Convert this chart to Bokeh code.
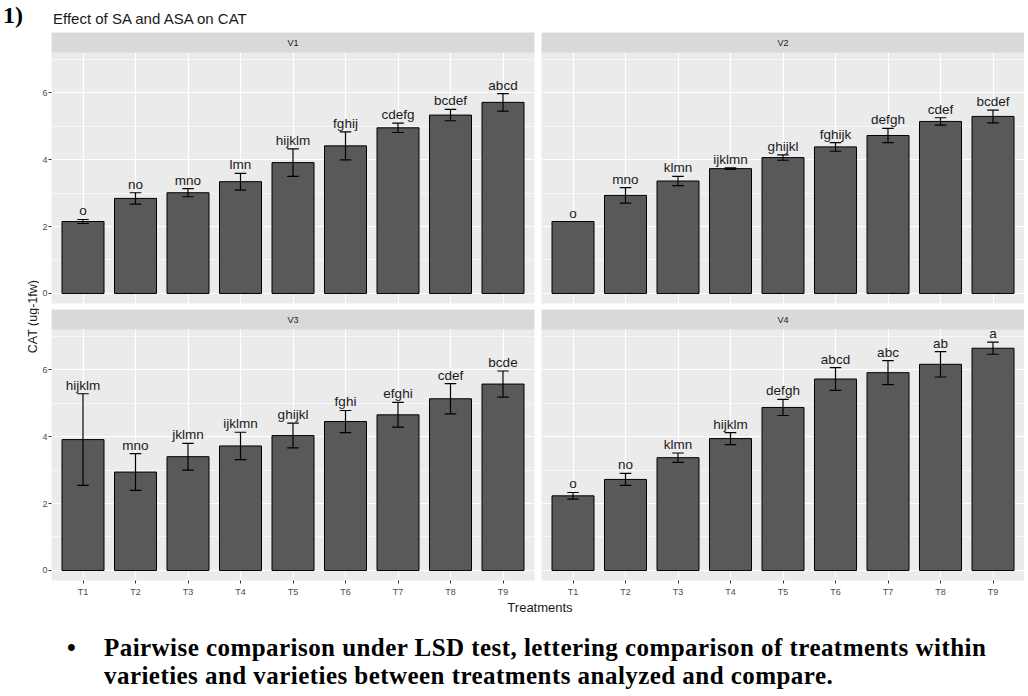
from math import pi
from bokeh.plotting import figure
from bokeh.models import Range1d, FixedTicker, BoxAnnotation, Label, Div, ColumnDataSource
from bokeh.layouts import row, column
from bokeh.embed import file_html
from bokeh.resources import INLINE
from bokeh.core.properties import value

# ---------------- data ----------------
treatments = ["T1", "T2", "T3", "T4", "T5", "T6", "T7", "T8", "T9"]
varieties = ["V1", "V2", "V3", "V4"]

v1_mean = [2.15, 2.84, 3.01, 3.34, 3.91, 4.41, 4.95, 5.33, 5.71]
v1_se = [0.06, 0.17, 0.12, 0.25, 0.41, 0.42, 0.14, 0.17, 0.26]
v1_letters = ["o", "no", "mno", "lmn", "hijklm", "fghij", "cdefg", "bcdef", "abcd"]

v2_mean = [2.15, 2.93, 3.36, 3.73, 4.06, 4.38, 4.72, 5.14, 5.29]
v2_se = [0.0, 0.23, 0.14, 0.02, 0.08, 0.13, 0.21, 0.11, 0.19]
v2_letters = ["o", "mno", "klmn", "ijklmn", "ghijkl", "fghijk", "defgh", "cdef", "bcdef"]

v3_mean = [3.91, 2.94, 3.40, 3.72, 4.03, 4.45, 4.65, 5.13, 5.57]
v3_se = [1.37, 0.55, 0.40, 0.41, 0.37, 0.33, 0.37, 0.45, 0.39]
v3_letters = ["hijklm", "mno", "jklmn", "ijklmn", "ghijkl", "fghi", "efghi", "cdef", "bcde"]

v4_mean = [2.23, 2.72, 3.37, 3.94, 4.87, 5.72, 5.91, 6.16, 6.64]
v4_se = [0.10, 0.18, 0.14, 0.18, 0.24, 0.34, 0.36, 0.38, 0.18]
v4_letters = ["o", "no", "klmn", "hijklm", "defgh", "abcd", "abc", "ab", "a"]

y_ticks = [0, 2, 4, 6]
y_minor = [1, 3, 5, 7]

title_text = "Effect of SA and ASA on CAT"
x_title = "Treatments"
y_title = "CAT (ug-1fw)"
note_line1 = "Pairwise comparison under LSD test, lettering comparison of treatments within"
note_line2 = "varieties and varieties between treatments analyzed and compare."

# ---------------- style / geometry ----------------
SANS = "Liberation Sans"
SERIF = "Liberation Serif"
Y_LO, Y_HI = -0.3, 7.2
PLOT_H = 251
STRIP_H = 20
FRAME_W = 483
PPU = PLOT_H / (Y_HI - Y_LO)
Y_TOP = Y_HI + STRIP_H / PPU
FRAME_H = PLOT_H + STRIP_H
LEFT_B = 11
GAP = 7
VGAP = 6
BOTTOM_B = 21
HEADER_H = 32


def panel(name, means, ses, letters, show_y, show_x):
    xs = list(range(1, len(treatments) + 1))
    lower = [m - s for m, s in zip(means, ses)]
    upper = [m + s for m, s in zip(means, ses)]
    src = ColumnDataSource(dict(
        x=xs, mean=means, lower=lower, upper=upper, lab=letters,
        cl=[x - 0.11 for x in xs], cr=[x + 0.11 for x in xs],
    ))
    p = figure(
        frame_width=FRAME_W, frame_height=FRAME_H,
        x_range=Range1d(0.4, len(xs) + 0.6), y_range=Range1d(Y_LO, Y_TOP),
        output_backend="svg", toolbar_location=None,
        min_border=0,
        min_border_left=LEFT_B if show_y else 0,
        min_border_right=GAP if show_y else 0,
        min_border_top=0,
        min_border_bottom=BOTTOM_B if show_x else VGAP,
        background_fill_color="#EBEBEB", border_fill_color="white",
        outline_line_color=None,
    )
    yt = FixedTicker(ticks=y_ticks, minor_ticks=y_minor)
    xt = FixedTicker(ticks=xs, minor_ticks=[])
    p.yaxis.ticker = yt
    p.ygrid.ticker = yt
    p.xaxis.ticker = xt
    p.xgrid.ticker = xt
    p.xaxis.major_label_overrides = {i: t for i, t in zip(xs, treatments)}
    for ax in (p.xaxis, p.yaxis):
        ax.axis_line_color = None
        ax.major_tick_line_color = "#333333"
        ax.major_tick_line_width = 1
        ax.major_tick_out = 3
        ax.major_tick_in = 0
        ax.minor_tick_line_color = None
        ax.major_label_text_color = "#4D4D4D"
        ax.major_label_text_font = SANS
        ax.major_label_text_font_size = "9px"
    p.yaxis.major_label_standoff = 0
    p.xaxis.major_label_standoff = 3
    p.xaxis.visible = show_x
    p.yaxis.visible = show_y
    for g in (p.xgrid, p.ygrid):
        g.grid_line_color = "white"
        g.grid_line_width = 1.2
        g.minor_grid_line_color = "white"
        g.minor_grid_line_width = 0.6

    p.vbar(x="x", top="mean", bottom=0, width=0.8, source=src,
           fill_color="#595959", line_color="black", line_width=1)
    p.segment(x0="x", y0="lower", x1="x", y1="upper", source=src,
              line_color="black", line_width=1.2)
    p.segment(x0="cl", y0="upper", x1="cr", y1="upper", source=src,
              line_color="black", line_width=1.2)
    p.segment(x0="cl", y0="lower", x1="cr", y1="lower", source=src,
              line_color="black", line_width=1.2)
    p.text(x="x", y="upper", text="lab", source=src,
           text_align="center", text_baseline="bottom", y_offset=-1,
           text_font=value(SANS), text_font_size="13.5px", text_color="#1A1A1A")

    p.add_layout(BoxAnnotation(bottom=Y_HI, top=Y_TOP, fill_color="#D9D9D9",
                               fill_alpha=1, line_color=None))
    p.add_layout(Label(x=(xs[0] + xs[-1]) / 2, y=(Y_HI + Y_TOP) / 2, text=name,
                       text_align="center", text_baseline="middle",
                       text_font=SANS, text_font_size="9px", text_color="#1A1A1A"))
    return p


p1 = panel(varieties[0], v1_mean, v1_se, v1_letters, True, False)
p2 = panel(varieties[1], v2_mean, v2_se, v2_letters, False, False)
p3 = panel(varieties[2], v3_mean, v3_se, v3_letters, True, True)
p4 = panel(varieties[3], v4_mean, v4_se, v4_letters, False, True)

# y-axis title strip
YL_W = 39
YL_H = FRAME_H * 2 + VGAP + BOTTOM_B
yl = figure(frame_width=YL_W, frame_height=YL_H, x_range=Range1d(0, YL_W),
            y_range=Range1d(0, YL_H), output_backend="svg", toolbar_location=None,
            min_border=0, x_axis_location=None, y_axis_location=None,
            outline_line_color=None, background_fill_color="white",
            border_fill_color="white")
yl.grid.visible = False
yl.text(x=[32.5], y=[YL_H - (316 - HEADER_H)], text=[y_title], angle=pi / 2,
        text_align="center", text_baseline="middle",
        text_font=value(SANS), text_font_size="12.5px", text_color="#1A1A1A")

header = Div(
    text=(
        f'<div style="position:relative;width:1028px;height:{HEADER_H}px;">'
        f'<span style="position:absolute;left:3px;top:2px;font-family:\'{SERIF}\';'
        'font-weight:bold;font-size:24px;line-height:26px;color:#000;">1)</span>'
        f'<span style="position:absolute;left:53px;top:11px;font-family:\'{SANS}\';'
        f'font-size:15px;line-height:16px;color:#1A1A1A;white-space:nowrap;">{title_text}</span>'
        '</div>'
    ),
    width=1028, height=HEADER_H, margin=0,
)

xlab = Div(
    text=(
        '<div style="position:relative;width:1028px;height:14px;">'
        f'<span style="position:absolute;left:0px;width:1080px;text-align:center;top:0px;'
        f'font-family:\'{SANS}\';font-size:13px;line-height:14px;color:#1A1A1A;">{x_title}</span>'
        '</div>'
    ),
    width=1028, height=14, margin=0,
)

note = Div(
    text=(
        f'<div style="position:relative;width:1028px;height:81px;font-family:\'{SERIF}\';'
        'font-weight:bold;font-size:25px;color:#000;">'
        '<span style="position:absolute;left:67px;top:19px;line-height:28px;">&#8226;</span>'
        '<div style="position:absolute;left:104px;top:19px;line-height:28px;'
        'letter-spacing:0.45px;white-space:nowrap;">'
        f'{note_line1}<br>{note_line2}</div>'
        '</div>'
    ),
    width=1028, height=81, margin=0,
)

layout = column(
    header,
    row(yl, column(p1, p3, spacing=0), column(p2, p4, spacing=0), spacing=0),
    xlab,
    note,
    spacing=0,
)

open("out.html", "w").write(file_html(layout, INLINE))
